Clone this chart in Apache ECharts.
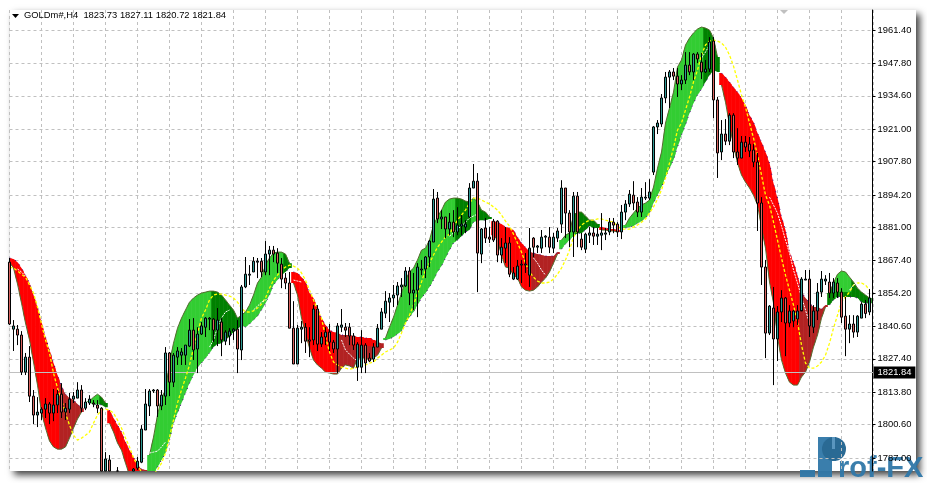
<!DOCTYPE html>
<html><head><meta charset="utf-8">
<style>html,body{margin:0;padding:0;background:#fff}#c{width:927px;height:483px}</style>
<script src="https://cdn.jsdelivr.net/npm/echarts@6/dist/echarts.min.js"></script>
</head><body><div id="c"></div>
<script>
const symbolTitle = 'GOLDm#,H4  1823.73 1827.11 1820.72 1821.84';
const lastPrice = 1821.84;
const priceTicks = [1961.40,1947.80,1934.60,1921.00,1907.80,1894.20,1881.00,1867.40,1854.20,1840.60,1827.40,1813.80,1800.60,1787.00];

const opens = [1866.8,1839.5,1839.5,1837.1,1822.0,1828.1,1812.2,1804.5,1805.3,1806.9,
1809.0,1805.3,1808.6,1813.0,1805.7,1806.9,1811.0,1811.4,1814.7,1807.3,
1809.4,1809.4,1808.6,1807.3,1781.7,1786.2,null,1781.7,null,null,
null,1781.7,1782.9,1785.3,1798.4,1808.2,1814.3,1814.7,1808.2,1812.2,
1829.8,1817.9,1828.1,1828.9,1828.9,1832.6,1839.1,1831.4,1837.5,1840.3,
1843.6,1843.6,1839.1,1842.4,1834.6,1836.7,1838.7,1839.5,1831.0,1856.7,
1861.5,1862.8,1866.8,1867.2,1862.8,1870.1,1871.7,1870.5,1866.0,1860.3,
1858.3,1839.9,1825.3,1839.5,1840.3,1835.1,1835.1,1847.7,1833.4,1836.3,
1838.3,1834.2,1831.4,1840.3,1840.3,1840.3,1836.7,1824.0,1824.0,1833.0,
1827.7,1827.3,1832.2,1839.5,1846.0,1850.5,1852.2,1853.4,1856.7,1857.1,
1863.2,1854.2,1855.4,1863.6,1864.0,1868.9,1875.0,1892.9,1884.4,1885.2,
1880.3,1883.1,1879.1,1881.5,1881.1,1885.2,1897.0,1899.8,1870.1,1880.7,
1877.0,1883.5,1883.5,1869.7,1872.5,1874.6,1859.9,1859.9,1865.6,1865.6,
1861.5,1876.6,1872.9,1872.5,1877.0,1877.0,1872.5,1876.6,1882.3,1897.0,
1886.8,1879.1,1893.7,1876.2,1872.1,1877.8,1878.7,1877.4,1877.8,1878.2,
1879.1,1883.1,1882.3,1879.1,1887.2,1890.5,1894.1,1891.3,1887.2,1892.9,
1892.9,1903.5,1921.9,1923.1,1933.7,1942.2,1944.3,1942.6,1939.4,1941.0,
1947.1,1944.3,1951.6,1948.3,1944.3,1945.5,1956.9,1932.9,1911.7,1919.0,
1916.1,1926.7,1911.7,1909.2,1915.7,1914.9,1912.5,1907.6,1890.9,1864.8,
1837.9,1848.1,1835.5,1846.5,1852.2,1842.0,1842.8,1843.6,1846.9,1859.5,
1859.9,1840.3,1846.9,1854.6,1859.1,1858.7,1854.2,1858.3,1854.6,1844.8,
1839.5,1841.6,1838.3,1844.0,1849.7,1846.5];

const closes = [1841.6,1840.8,1837.1,1822.0,1828.1,1812.2,1804.5,1805.7,1806.9,1809.0,
1805.3,1808.6,1813.0,1805.7,1807.3,1811.0,1812.2,1814.7,1807.3,1809.8,
1811.0,1809.0,1807.3,1781.7,1786.6,1781.7,null,1781.7,null,null,
null,1782.5,1785.7,1798.8,1809.0,1814.3,1814.7,1808.2,1812.6,1829.8,
1817.9,1828.9,1830.6,1830.2,1833.0,1839.1,1831.0,1837.5,1840.8,1844.0,
1844.0,1839.1,1843.2,1835.1,1838.3,1838.7,1839.5,1831.4,1856.7,1861.9,
1861.9,1867.2,1867.2,1862.8,1870.1,1871.7,1870.1,1866.4,1859.9,1858.3,
1839.9,1825.3,1839.9,1840.3,1834.6,1834.6,1847.7,1833.4,1836.3,1838.3,
1834.2,1831.4,1840.8,1841.2,1839.1,1836.7,1833.0,1833.4,1833.0,1825.7,
1826.5,1832.2,1839.9,1846.5,1850.9,1852.2,1853.4,1857.1,1857.5,1863.2,
1854.2,1855.4,1864.8,1864.0,1868.9,1875.4,1892.5,1884.4,1885.2,1880.3,
1883.1,1879.1,1881.9,1882.3,1882.3,1897.0,1899.8,1870.5,1880.3,1876.6,
1876.2,1875.8,1869.7,1872.9,1874.6,1861.9,1862.4,1865.2,1866.0,1866.0,
1872.5,1872.9,1873.4,1877.0,1877.4,1872.9,1877.0,1879.5,1897.0,1886.8,
1879.1,1893.7,1879.1,1872.9,1878.2,1878.7,1877.4,1878.2,1878.7,1878.7,
1883.1,1881.9,1879.1,1887.2,1890.5,1894.5,1890.9,1887.2,1893.3,1893.3,
1895.4,1921.9,1923.5,1933.7,1942.2,1944.3,1942.6,1939.4,1941.0,1947.1,
1944.3,1951.6,1949.6,1944.3,1945.5,1956.5,1932.9,1911.3,1919.0,1916.1,
1926.7,1911.7,1909.2,1915.7,1913.7,1912.1,1907.6,1890.9,1864.8,1837.9,
1848.9,1835.5,1846.5,1852.2,1842.0,1846.9,1846.9,1846.9,1859.9,1859.9,
1840.8,1846.9,1854.6,1859.9,1859.9,1854.2,1858.7,1854.6,1844.4,1839.5,
1841.6,1838.3,1844.8,1849.7,1845.9,1852.2];

const lows = [1841.2,1830.6,1833.0,1820.8,1820.8,1809.8,1800.8,1799.6,1802.5,1803.3,
1800.8,1802.0,1805.3,1803.3,1802.5,1805.3,1809.4,1811.4,1805.7,1806.5,
1808.6,1807.7,1805.3,1781.7,1781.7,1781.7,null,1781.7,null,null,
null,1781.7,1782.1,1784.9,1798.4,1804.1,1813.5,1803.7,1806.5,1808.6,
1812.2,1815.9,1824.9,1824.9,1824.9,1832.2,1826.9,1821.6,1837.1,1836.3,
1839.1,1834.3,1832.6,1828.5,1833.0,1833.0,1835.1,1821.6,1826.9,1856.2,
1857.5,1862.8,1860.3,1860.7,1861.5,1861.5,1866.8,1862.4,1856.2,1855.8,
1839.9,1825.3,1825.3,1833.8,1829.8,1828.1,1833.0,1830.6,1832.2,1833.0,
1830.6,1829.8,1821.6,1838.3,1836.3,1833.0,1831.0,1818.4,1821.6,1821.6,
1826.1,1826.1,1832.2,1839.5,1844.0,1842.4,1848.5,1849.3,1852.6,1856.7,
1849.3,1847.3,1844.4,1861.5,1860.3,1864.8,1875.0,1882.7,1880.3,1876.6,
1877.8,1877.0,1877.8,1877.8,1878.6,1884.8,1897.0,1854.6,1866.4,1874.6,
1874.6,1875.0,1866.8,1866.4,1866.4,1860.7,1859.5,1859.5,1858.3,1862.4,
1856.7,1868.9,1870.5,1870.5,1872.9,1870.5,1870.5,1875.0,1878.7,1876.6,
1872.9,1868.9,1872.9,1871.7,1870.5,1874.6,1873.8,1873.8,1871.7,1875.8,
1877.8,1878.6,1877.0,1876.2,1883.9,1889.3,1888.0,1885.2,1885.2,1892.1,
1892.1,1902.3,1919.0,1921.9,1931.6,1929.6,1941.0,1934.1,1936.9,1939.4,
1943.0,1941.0,1947.9,1941.4,1943.9,1944.3,1925.5,1901.1,1908.4,1914.5,
1914.5,1909.2,1906.4,1909.2,1911.7,1909.6,1905.5,1879.5,1857.5,1827.7,
1837.1,1816.7,1826.5,1842.4,1828.5,1840.3,1840.3,1841.2,1847.3,1859.5,
1836.3,1837.9,1843.2,1852.6,1857.5,1852.2,1852.2,1852.2,1842.0,1828.5,
1833.8,1836.0,1836.3,1844.0,1844.0,1845.2];

const highs = [1868.5,1843.2,1841.2,1838.7,1829.8,1832.6,1814.7,1811.8,1807.7,1811.4,
1809.8,1815.1,1814.7,1817.5,1809.4,1813.5,1813.9,1817.9,1816.7,1811.4,
1812.6,1810.6,1810.6,1807.7,1789.4,1788.2,null,1783.3,null,null,
null,1782.9,1787.4,1800.4,1815.1,1815.1,1815.1,1815.1,1814.7,1832.2,
1830.2,1829.8,1832.2,1831.8,1833.0,1843.6,1844.0,1840.3,1842.4,1844.4,
1844.4,1844.0,1848.1,1844.0,1839.1,1839.9,1839.9,1843.2,1857.5,1868.9,
1865.6,1868.9,1868.5,1868.5,1875.4,1873.4,1873.4,1872.5,1868.5,1862.4,
1862.8,1850.9,1841.2,1842.8,1842.0,1840.3,1849.3,1849.3,1838.3,1840.3,
1841.6,1835.1,1842.0,1847.7,1842.0,1842.0,1837.9,1834.2,1839.1,1833.8,
1829.8,1833.8,1841.6,1848.1,1855.0,1854.2,1857.5,1858.7,1860.3,1864.8,
1864.8,1862.4,1866.4,1867.7,1869.3,1875.8,1896.6,1895.4,1888.0,1885.2,
1886.8,1888.0,1889.2,1886.0,1883.9,1899.0,1906.8,1903.1,1880.7,1884.8,
1881.1,1884.4,1883.9,1876.6,1881.1,1877.0,1864.8,1867.7,1867.7,1870.5,
1880.7,1877.0,1873.8,1879.9,1877.8,1881.1,1878.7,1880.7,1900.2,1897.0,
1888.0,1895.4,1895.4,1878.7,1878.7,1881.1,1881.1,1880.7,1886.8,1880.7,
1884.8,1884.8,1883.1,1890.1,1892.1,1896.2,1899.8,1893.3,1897.0,1899.4,
1900.6,1922.3,1924.7,1935.3,1944.3,1945.1,1945.9,1945.9,1943.0,1952.4,
1952.4,1952.0,1952.4,1952.0,1949.2,1958.5,1958.5,1934.1,1924.7,1925.1,
1927.5,1927.5,1921.4,1918.2,1918.2,1917.8,1914.9,1911.3,1893.3,1867.7,
1849.3,1856.7,1848.9,1855.4,1852.6,1849.3,1847.3,1849.3,1860.7,1863.6,
1863.6,1849.3,1858.3,1863.2,1861.5,1862.4,1860.3,1860.3,1856.2,1852.6,
1845.2,1845.2,1845.2,1850.5,1851.4,1855.8];

// Indicator band: 1 lime, 2 dark green, 3 red, 4 brown, 0 nothing
const bandKinds = [3,3,3,3,3,3,3,3,3,3,3,3,3,4,4,4,4,4,4,0,
1,1,1,2,2,3,3,3,3,3,3,3,3,4,4,1,1,1,1,1,
1,1,1,1,1,1,1,1,1,1,1,2,2,2,2,2,2,2,2,1,
1,1,1,1,1,1,1,1,1,2,2,3,3,3,3,3,3,3,3,3,
3,3,4,4,4,4,4,4,4,4,4,4,4,4,1,1,1,1,1,1,
1,1,1,1,1,1,1,1,1,1,1,1,2,2,2,2,1,1,2,2,
2,3,3,3,3,3,3,3,3,3,3,4,4,4,4,4,4,4,1,1,
1,1,2,2,2,2,2,2,3,3,3,3,3,0,1,1,1,1,1,1,
1,1,1,1,1,1,1,1,1,1,1,1,1,1,2,2,2,2,3,3,
3,3,3,3,3,3,3,3,3,3,3,3,3,3,3,3,3,3,4,4,
4,4,4,4,4,2,2,1,1,1,1,2,2,2,2,2];

const bandHighs = [1868.5,1868.1,1866.8,1864.4,1861.5,1858.3,1853.4,1848.5,1842.4,1836.3,
1831.0,1825.7,1820.8,1816.3,1813.0,1811.4,1810.6,1809.0,1807.3,null,
1810.2,1811.8,1813.0,1811.8,1809.4,1806.5,1803.3,1800.4,1797.6,1793.5,
1790.2,1787.4,1784.1,1782.5,1782.1,1788.2,1795.5,1804.5,1811.4,1814.7,
1825.7,1833.8,1839.9,1844.0,1847.3,1850.5,1852.2,1853.4,1854.2,1854.6,
1855.0,1855.0,1854.6,1853.4,1851.4,1849.3,1847.3,1844.0,1845.2,1846.5,
1849.3,1853.4,1858.3,1860.7,1865.6,1868.5,1870.5,1870.9,1870.9,1870.1,
1866.4,1862.8,1862.4,1860.7,1858.7,1854.2,1852.2,1848.1,1844.0,1841.2,
1839.1,1838.3,1837.9,1837.1,1837.1,1837.1,1836.7,1836.3,1836.3,1835.9,
1835.9,1835.1,1834.2,1833.8,1835.9,1840.3,1844.4,1849.3,1854.2,1859.5,
1862.8,1864.4,1867.7,1871.7,1872.5,1875.8,1881.9,1885.2,1888.0,1891.3,
1892.5,1892.9,1892.9,1892.5,1891.7,1891.3,1892.9,1891.3,1888.0,1887.2,
1885.2,1883.5,1883.1,1882.3,1881.1,1880.7,1879.9,1877.0,1874.6,1872.9,
1870.9,1870.5,1870.1,1869.7,1869.3,1869.3,1869.3,1870.9,1875.8,1877.8,
1878.7,1886.0,1887.2,1887.2,1885.6,1883.9,1883.9,1882.3,1881.1,1880.7,
1880.3,1880.3,1879.9,null,1881.9,1884.8,1886.8,1888.8,1890.1,1890.9,
1892.1,1897.4,1905.1,1911.7,1923.5,1929.6,1936.1,1946.3,1949.2,1955.3,
1958.1,1960.2,1961.8,1962.6,1962.2,1961.4,1958.1,1950.4,1943.9,1942.2,
1940.2,1938.1,1936.1,1933.7,1930.8,1926.7,1923.9,1919.4,1915.7,1911.7,
1907.2,1899.0,1892.9,1885.2,1879.9,1870.9,1866.8,1861.5,1854.6,1852.2,
1850.1,1848.5,1848.5,1847.7,1849.3,1854.2,1858.3,1861.9,1863.2,1862.8,
1860.7,1858.7,1856.2,1854.6,1853.4,1852.2];

const bandLows = [1866.8,1864.4,1857.9,1850.1,1842.0,1835.1,1826.1,1816.7,1805.7,1799.2,
1793.9,1791.5,1790.6,1790.6,1791.5,1795.1,1799.2,1802.9,1805.7,null,
1809.8,1808.6,1809.0,1808.6,1807.7,1801.2,1797.6,1793.1,1790.2,1784.9,
1780.0,1778.0,1778.0,1778.0,1778.0,1780.4,1780.4,1783.3,1786.2,1789.0,
1794.3,1801.2,1805.3,1809.4,1813.5,1817.5,1820.8,1824.0,1825.7,1827.7,
1829.8,1832.2,1833.4,1833.8,1835.5,1836.3,1838.3,1839.5,1841.2,1840.3,
1841.6,1843.2,1844.8,1847.3,1850.1,1853.4,1857.5,1859.5,1861.5,1862.8,
1864.4,1858.3,1853.4,1844.0,1837.9,1831.8,1826.9,1824.9,1823.6,1822.0,
1821.6,1821.2,1821.2,1823.6,1824.9,1824.5,1823.6,1827.7,1827.7,1827.7,
1826.9,1827.7,1828.9,1831.8,1835.1,1835.5,1836.3,1837.5,1838.7,1842.0,
1844.4,1846.5,1849.3,1852.2,1854.2,1856.7,1859.5,1862.8,1865.2,1868.5,
1871.7,1874.6,1875.8,1877.4,1879.1,1879.9,1883.1,1883.9,1883.9,1883.9,
1884.4,1877.8,1875.8,1869.7,1864.8,1864.4,1861.5,1860.3,1856.7,1855.4,
1855.0,1855.4,1856.7,1858.7,1860.3,1862.8,1866.4,1870.1,1872.1,1874.2,
1875.8,1877.4,1878.6,1878.6,1879.9,1881.5,1880.7,1880.7,1879.9,1879.9,
1879.5,1879.5,1879.1,null,1880.7,1881.1,1881.5,1882.7,1883.5,1884.8,
1886.8,1890.9,1894.1,1897.4,1901.5,1905.1,1908.4,1913.7,1918.6,1922.7,
1927.5,1931.6,1934.9,1937.3,1940.2,1943.0,1945.1,1944.3,1939.0,1932.0,
1922.7,1914.5,1907.2,1902.3,1899.4,1897.0,1894.1,1890.1,1881.1,1872.5,
1858.7,1850.1,1836.3,1826.9,1821.6,1817.9,1816.7,1816.7,1820.0,1822.0,
1826.1,1832.2,1837.1,1844.0,1848.5,1849.3,1851.4,1852.6,1852.6,1852.6,
1852.6,1852.6,1852.2,1850.5,1850.1,1850.1];

// Patches laid over the band where two colours share a candle
const patchIdx = [86,87,88,89,90,91,207,208,209,210];
const patchHighs = [1836.7,1836.3,1836.3,1835.9,1835.9,1835.1,1854.6,1854.6,1854.6,1854.6];
const patchLows = [1832.6,1832.6,1832.6,1832.6,1832.6,1832.6,1852.6,1852.6,1852.6,1852.6];
const patchKinds = [3,3,3,3,3,3,2,2,2,2];

const yellowLine = [1864.8,1864.4,1863.2,1861.9,1860.7,1857.5,1854.2,1848.5,1841.6,1835.1,
1829.8,1821.6,1815.5,1810.6,1805.3,1800.4,1796.3,1794.3,1795.1,1796.3,
1797.6,1801.2,1804.5,1806.5,1806.9,1806.5,1805.3,1802.5,1799.2,1795.1,
1791.5,1787.0,1784.1,1781.3,1780.0,1779.2,1780.4,1782.1,1784.9,1789.0,
1795.5,1802.5,1809.4,1814.7,1819.6,1824.9,1831.8,1837.9,1844.0,1847.3,
1851.4,1853.4,1853.8,1853.8,1853.4,1853.0,1852.2,1850.5,1848.1,1846.5,
1846.5,1846.9,1848.1,1849.7,1852.2,1856.2,1859.5,1861.5,1863.6,1864.8,
1865.6,1865.2,1864.4,1862.4,1859.5,1855.4,1851.4,1847.3,1844.0,1836.3,
1830.2,1826.1,1824.9,1824.0,1823.6,1823.2,1823.6,1824.0,1824.5,1824.9,
1825.7,1826.1,1827.7,1828.9,1830.2,1831.0,1831.8,1834.2,1837.9,1842.0,
1845.2,1849.3,1854.2,1858.7,1863.6,1866.4,1869.7,1872.9,1875.0,1877.0,
1878.2,1881.1,1883.9,1886.0,1888.0,1890.9,1892.9,1892.9,1892.1,1891.3,
1890.5,1889.3,1888.0,1886.0,1883.5,1881.5,1878.2,1874.6,1870.9,1866.4,
1862.8,1860.7,1859.1,1858.3,1858.3,1858.7,1859.9,1861.9,1864.4,1867.7,
1871.7,1877.0,1879.9,1881.9,1883.1,1883.9,1883.9,1884.4,1884.4,1883.9,
1883.5,1883.1,1881.5,1880.3,1880.3,1880.3,1881.1,1881.9,1883.1,1884.4,
1886.8,1889.3,1892.5,1896.2,1901.1,1907.2,1913.3,1920.6,1923.5,1928.8,
1934.1,1940.2,1945.1,1951.2,1955.3,1956.9,1957.3,1956.9,1956.1,1954.4,
1951.2,1946.7,1941.0,1934.9,1930.0,1923.5,1917.4,1910.4,1902.3,1894.1,
1890.1,1883.1,1875.8,1868.5,1861.5,1855.4,1849.3,1842.4,1833.0,1825.7,
1823.6,1823.6,1824.5,1826.1,1828.9,1833.8,1839.9,1845.2,1850.5,1852.6,
1854.6,1857.5,1858.3,1858.3,1857.5,1855.4];

const whiteIdx = [2,3,4, 35,36,37,38,39, 50,51,52,53,54,55, 61,62,63,64,65, 71,72,73, 83,84,85,86,87, 110,111,112,113,114,115,116,117, 131,132,133,134, 173,174,175, 190,191,192,193,194,195,196,197,198,199,200, 210,211,212];
const whitePrices = [1864.0,1862.8,1861.1, 1789.0,1789.4,1789.8,1791.5,1793.5, 1832.2,1835.1,1840.3,1844.0,1846.5,1847.3, 1847.3,1848.9,1850.5,1851.4,1852.2, 1859.5,1859.1,1858.7, 1835.1,1831.0,1829.3,1827.7,1826.5, 1877.4,1878.7,1880.3,1881.5,1883.1,1884.8,1885.6,1886.4, 1868.5,1866.4,1863.6,1861.5, 1950.0,1952.4,1955.3, 1893.3,1890.1,1886.8,1881.5,1875.8,1870.5,1863.6,1858.3,1852.6,1847.3,1842.0, 1855.4,1857.5,1858.3];

const kindColors = {1:'#32cd32',2:'#008000',3:'#ff0000',4:'#b22222'};
const slots = Array.from({length:217},(_,i)=>String(i));
const isGreen = k=>k===1||k===2;
const isRed = k=>k===3||k===4;
const sameFamily=(a,b)=>(isGreen(a)&&isGreen(b))||(isRed(a)&&isRed(b));
// each cell carries the mid-heights shared with its neighbours so adjacent cells join up
const bandRows = bandKinds.map((k,i)=>{
  const hi=bandHighs[i], lo=bandLows[i];
  const l=sameFamily(k,bandKinds[i-1]), r=sameFamily(k,bandKinds[i+1]);
  return [i,hi,lo,k,
    l?(hi+bandHighs[i-1])/2:hi, l?(lo+bandLows[i-1])/2:lo,
    r?(hi+bandHighs[i+1])/2:hi, r?(lo+bandLows[i+1])/2:lo];
}).filter(r=>r[3]);
const patchRows = patchIdx.map((x,i)=>[x,patchHighs[i],patchLows[i],patchKinds[i]]);
const whiteLine = slots.map(()=>null);
whiteIdx.forEach((x,i)=>{whiteLine[x]=whitePrices[i];});
const oliveGreen = bandKinds.map((k,i)=>isGreen(k)?bandHighs[i]:null);
const oliveRed = bandKinds.map((k,i)=>isRed(k)?bandLows[i]:null);
const purpleGreen = bandKinds.map((k,i)=>isGreen(k)?bandLows[i]:null);
const purpleRed = bandKinds.map((k,i)=>isRed(k)?bandHighs[i]:null);
const candleRows = opens.map((o,i)=>[o,closes[i],lows[i],highs[i]]);

function bandCell(params,api){
  const i=api.value(0), y=v=>api.coord([i,v])[1], x=api.coord([i,api.value(1)])[0];
  return {type:'polygon',shape:{points:[
      [x-2.3,y(api.value(4))],[x,y(api.value(1))],[x+2.3,y(api.value(6))],
      [x+2.3,y(api.value(7))],[x,y(api.value(2))],[x-2.3,y(api.value(5))]]},
    style:{fill:kindColors[api.value(3)]}};
}
function patchCell(params,api){
  const a=api.coord([api.value(0),api.value(1)]), b=api.coord([api.value(0),api.value(2)]);
  return {type:'rect',shape:{x:a[0]-2,y:a[1],width:4,height:b[1]-a[1]},style:{fill:kindColors[api.value(3)]}};
}
const edge=(name,data,color,type)=>({type:'line',name,z:4,data,symbol:'none',silent:true,lineStyle:{color,width:1,type}});
const lblFont='"Liberation Sans"';
const chart=echarts.init(document.getElementById('c'),null,{renderer:'canvas'});
chart.setOption({
  animation:false,
  backgroundColor:'#fff',
  title:{text:symbolTitle,left:24,top:11,padding:0,textStyle:{fontFamily:lblFont,fontSize:9.4,fontWeight:'normal',color:'#000'}},
  grid:{left:9.5,top:10,width:864,height:461,containLabel:false},
  xAxis:{type:'category',data:slots,boundaryGap:false,
    axisLine:{show:false},axisTick:{show:false},axisLabel:{show:false},
    splitLine:{show:true,interval:i=>i%8===0,lineStyle:{color:'#c0c0c0',type:[3,3],width:1}}},
  yAxis:{type:'value',position:'right',offset:-1,min:1781.7,max:1969.55,
    axisLine:{show:true,onZero:false,lineStyle:{color:'#000',width:1}},
    axisTick:{show:true,length:3,customValues:priceTicks,lineStyle:{color:'#000'}},
    axisLabel:{show:true,customValues:priceTicks,margin:5,fontFamily:lblFont,fontSize:9.4,color:'#000',formatter:v=>v.toFixed(2)},
    splitLine:{show:true,customValues:priceTicks,lineStyle:{color:'#c0c0c0',type:[3,3],width:1}}},
  series:[
    {type:'line',name:'last',z:1,data:[],symbol:'none',silent:true,
      markLine:{silent:true,symbol:'none',animation:false,lineStyle:{color:'#c0c0c0',type:'solid',width:1},
        data:[{yAxis:lastPrice}],
        label:{show:true,position:'end',distance:0,formatter:lastPrice.toFixed(2),color:'#fff',backgroundColor:'#000',
          padding:[2,4,1,4],fontFamily:lblFont,fontSize:9.4}}},
    {type:'custom',name:'band',z:2,clip:true,silent:true,renderItem:bandCell,encode:{x:0,y:[1,2]},data:bandRows},
    {type:'custom',name:'patch',z:3,clip:true,silent:true,renderItem:patchCell,encode:{x:0,y:[1,2]},data:patchRows},
    edge('oliveGreen',oliveGreen,'#556b2f','solid'),
    edge('oliveRed',oliveRed,'#556b2f','solid'),
    edge('purpleGreen',purpleGreen,'#4b0082',[1,5]),
    edge('purpleRed',purpleRed,'#4b0082',[1,5]),
    {type:'line',name:'yellow',z:5,data:yellowLine,symbol:'none',silent:true,lineStyle:{color:'#ffff00',width:1.3,type:[3,2]}},
    {type:'line',name:'white',z:5,data:whiteLine,symbol:'none',silent:true,lineStyle:{color:'#ffffff',width:1,type:[2,1]}},
    {type:'candlestick',name:'GOLDm#',z:6,barWidth:2,silent:true,clip:true,data:candleRows,
      itemStyle:{color:'#2f9a94',color0:'#d9635f',borderColor:'#000',borderColor0:'#000',borderWidth:1}}
  ],
  graphic:[
    {type:'rect',z:-5,silent:true,shape:{x:10,y:10,width:906,height:461},
      style:{fill:'#fff',shadowColor:'rgba(0,0,0,0.75)',shadowBlur:7,shadowOffsetX:4,shadowOffsetY:4}},
    {type:'polygon',z:20,silent:true,shape:{points:[[12,14],[19,14],[15.5,18]]},style:{fill:'#000'}},
    {type:'polygon',z:20,silent:true,shape:{points:[[780,10],[788,10],[784,14]]},style:{fill:'#c0c0c0'}},
    {type:'group',z:30,silent:true,children:[
      {type:'rect',shape:{x:800,y:470,width:15,height:7},style:{fill:'#2f77a8',opacity:.95}},
      {type:'rect',shape:{x:818,y:437,width:14,height:40},style:{fill:'#2f77a8',opacity:.95}},
      {type:'rect',shape:{x:832,y:437,width:4,height:24},style:{fill:'#2f77a8',opacity:.95}},
      {type:'circle',shape:{cx:834,cy:449,r:12},style:{fill:'#2a6a94'}},
      {type:'rect',shape:{x:832,y:437,width:3,height:12},style:{fill:'#5a96bf'}},
      {type:'text',x:838,y:454,style:{text:'rof-FX',fill:'#2f77a8',opacity:.95,font:'bold 29px "Liberation Sans"'}}
    ]}
  ]
});
</script></body></html>
